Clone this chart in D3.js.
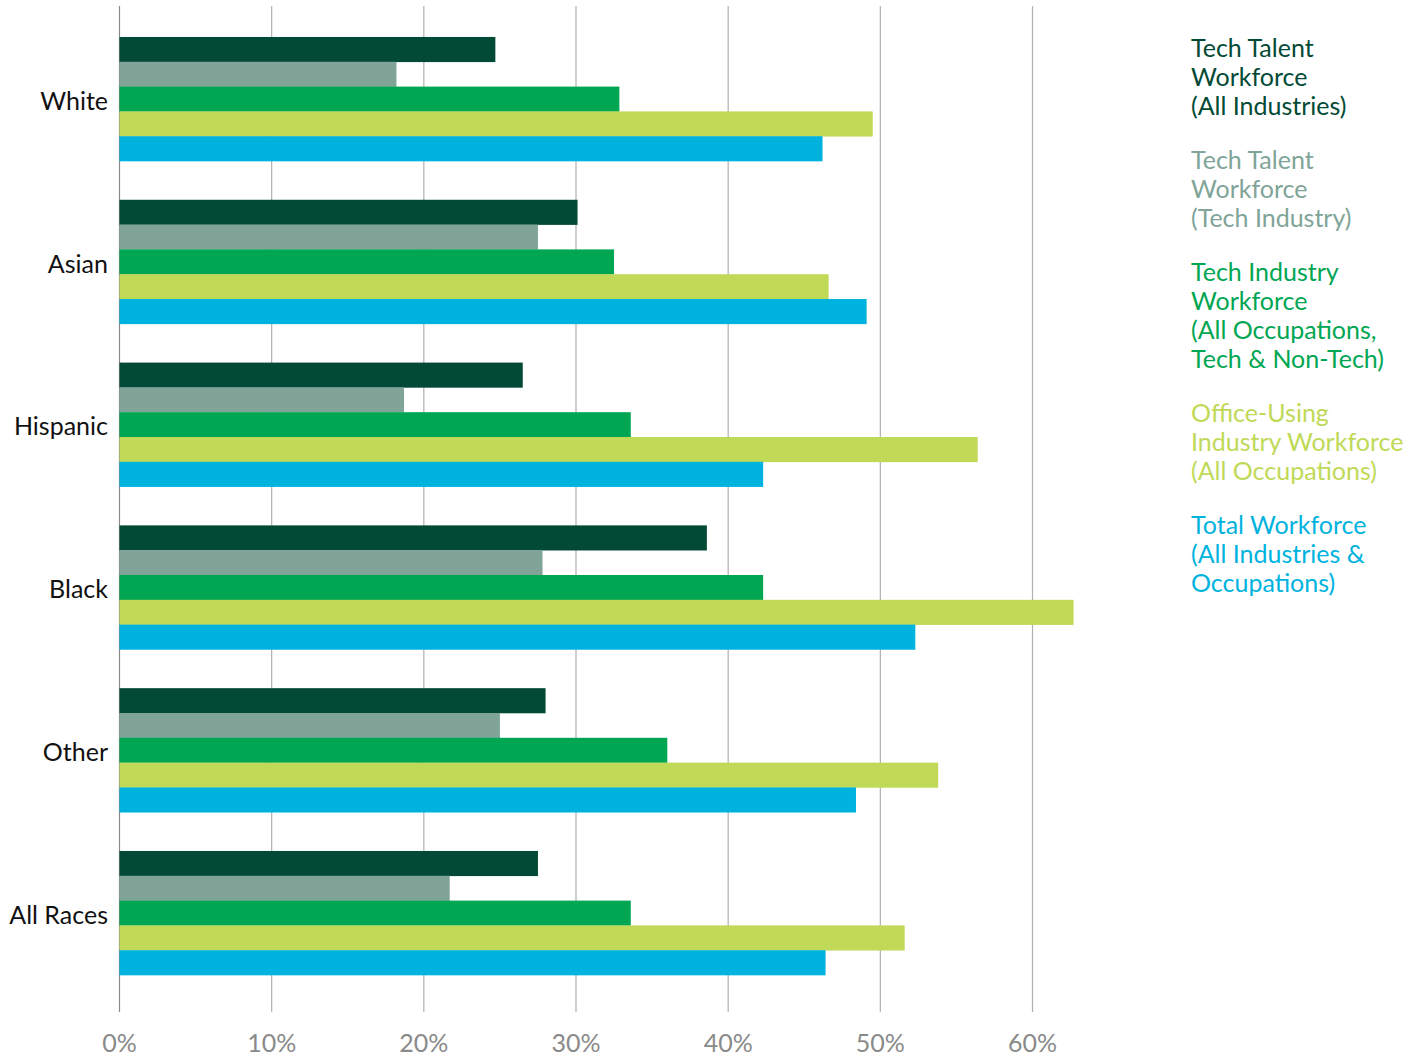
<!DOCTYPE html>
<html><head><meta charset="utf-8">
<script src="https://cdn.jsdelivr.net/npm/d3@7"></script>
<style>body{margin:0;background:#fff}svg{display:block}text{font-family:Lato,"Noto Sans",sans-serif}</style>
</head><body>
<svg id="c" width="1425" height="1057"></svg>
<script>
const categories = ["White","Asian","Hispanic","Black","Other","All Races"];
const seriesNames = [
  ["Tech Talent","Workforce","(All Industries)"],
  ["Tech Talent","Workforce","(Tech Industry)"],
  ["Tech Industry","Workforce","(All Occupations,","Tech & Non-Tech)"],
  ["Office-Using","Industry Workforce","(All Occupations)"],
  ["Total Workforce","(All Industries &","Occupations)"]
];
const seriesColors = ["#024a35","#80a498","#00a652","#c0d957","#00b3de"];
const techTalentAll   = [24.7, 30.1, 26.5, 38.6, 28.0, 27.5];
const techTalentTech  = [18.2, 27.5, 18.7, 27.8, 25.0, 21.7];
const techIndustry    = [32.85, 32.5, 33.6, 42.3, 36.0, 33.6];
const officeUsing     = [49.5, 46.6, 56.4, 62.7, 53.8, 51.6];
const totalWorkforce  = [46.2, 49.1, 42.3, 52.3, 48.4, 46.4];
const seriesValues = [techTalentAll, techTalentTech, techIndustry, officeUsing, totalWorkforce];
const tickValues = [0,10,20,30,40,50,60];
const tickLabels = ["0%","10%","20%","30%","40%","50%","60%"];

const svg = d3.select("#c");
const x = d3.scaleLinear().domain([0,60]).range([119.5,1032.5]);
const y = d3.scaleBand().domain(categories).range([17.6,994.4]).paddingInner(0.238).paddingOuter(0.119);
const yi = d3.scaleBand().domain(d3.range(5)).range([0,y.bandwidth()]);

// gridlines
svg.append("g").selectAll("line").data(tickValues).join("line")
  .attr("x1",d=>x(d)).attr("x2",d=>x(d)).attr("y1",6).attr("y2",1012)
  .attr("stroke",d=>d===0?"#8a8a8a":"#b0b0b0").attr("stroke-width",1.2);

// bars
const g = svg.append("g");
categories.forEach((c,ci)=>{
  seriesValues.forEach((vals,si)=>{
    g.append("rect")
      .attr("x",x(0)).attr("y",y(c)+yi(si))
      .attr("width",x(vals[ci])-x(0)).attr("height",yi.bandwidth()+0.3)
      .attr("fill",seriesColors[si]);
  });
});

// category labels
svg.append("g").selectAll("text").data(categories).join("text")
  .attr("x",108).attr("y",d=>y(d)+y.bandwidth()/2+2).attr("dy","0.35em")
  .attr("text-anchor","end").attr("font-size",25).attr("fill","#111").text(d=>d);

// x axis labels
svg.append("g").selectAll("text").data(tickValues).join("text")
  .attr("x",d=>x(d)).attr("y",1052).attr("text-anchor","middle")
  .attr("font-size",25).attr("fill","#8a8a8a").text((d,i)=>tickLabels[i]);

// legend
const lh = 29, gap = 25;
let yy = 57;
const lg = svg.append("g");
seriesNames.forEach((lines,si)=>{
  lines.forEach((ln,li)=>{
    lg.append("text").attr("x",1191).attr("y",yy).attr("font-size",25)
      .attr("fill",seriesColors[si]).text(ln);
    yy += lh;
  });
  yy += gap;
});
</script>
</body></html>
